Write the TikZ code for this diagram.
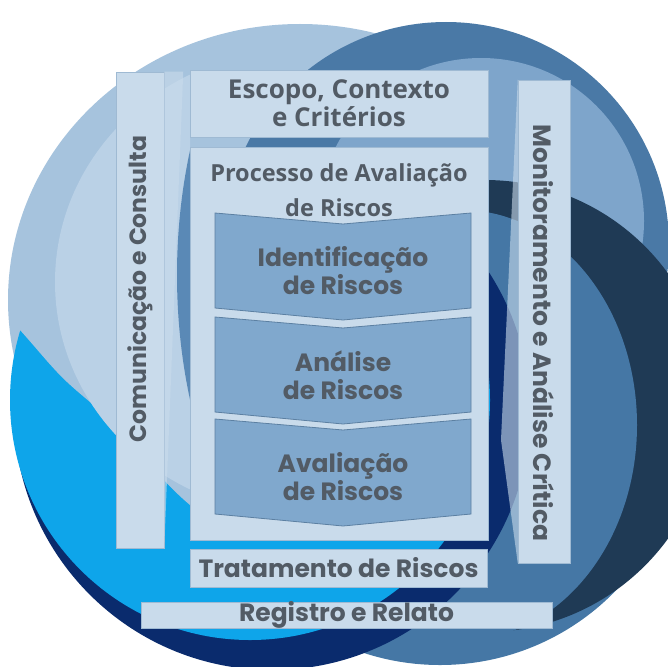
\documentclass[tikz,border=0pt]{standalone}
\definecolor{PaleBlue}{HTML}{A6C3DD}
\definecolor{PalerBlue}{HTML}{BAD1E6}
\definecolor{RingBlue}{HTML}{4A79A6}
\definecolor{RingLight}{HTML}{7EA5CB}
\definecolor{DeepSlate}{HTML}{1F3A55}
\definecolor{MidBlue}{HTML}{4577A5}
\definecolor{NavyBlue}{HTML}{0A2B6D}
\definecolor{SkyBlue}{HTML}{0EA5EA}
\definecolor{StripBlue}{HTML}{5A89B6}
\definecolor{PanelFill}{HTML}{C9DBEB}
\definecolor{PanelEdge}{HTML}{9FBAD3}
\definecolor{StepFill}{HTML}{80A8CD}
\definecolor{StepEdge}{HTML}{5C80A2}
\definecolor{InkGray}{HTML}{525B65}
\usepackage{fontspec}
\newfontfamily\popfont{Poppins}
\newfontfamily\opfont{Open Sans}
\usepackage{tikz}
\usetikzlibrary{positioning}

\tikzset{
	panel/.style={fill=PanelFill, draw=PanelEdge, line width=0.5pt, inner sep=0pt},
	boldtext/.style={font=\popfont\bfseries\fontsize{25}{28}\selectfont, text=InkGray, align=center},
	headtext/.style={font=\opfont\bfseries\fontsize{26}{28}\selectfont, text=InkGray, align=center},
	stepbox/.style={fill=StepFill, draw=StepEdge, line width=0.8pt}
}

\begin{document}
\begin{tikzpicture}[x=1pt,y=-1pt]
\useasboundingbox (0,0) rectangle (668,666);
% background circles
\begin{scope}
\clip (0,0) rectangle (668,666);
\fill[PaleBlue] (300,300) ellipse (292 and 276);
\fill[MidBlue] (440,420) circle (245);
\begin{scope}
\clip (190,0) rectangle (668,666);
\fill[RingBlue] (446,245) circle (223);
\fill[RingLight] (481,221) circle (163);
\end{scope}
\fill[DeepSlate] (485,406) circle (226);
\fill[MidBlue] (462,425) ellipse (175 and 215);
\fill[NavyBlue] (272,412) circle (258);
\fill[SkyBlue] (250,400) circle (240);
\fill[PaleBlue] (190,140) -- (100,180) -- (40,240) -- (22,290) -- (20,330)
	.. controls (38,350) and (52,368) .. (67,382)
	.. controls (82,396) and (98,408) .. (113,422)
	.. controls (135,445) and (160,480) .. (190,505) -- cycle;
\begin{scope}
\clip (0,0) rectangle (190,666);
\fill[PalerBlue] (300,282) ellipse (245 and 232);
\end{scope}
\begin{scope}
\clip (164,120) rectangle (190,545);
\fill[StripBlue] (440,275) ellipse (263 and 400);
\end{scope}
\end{scope}

% side bars
\node[panel, minimum width=48pt, minimum height=476pt] (commbar) at (140,310) {};
\fill[PanelFill, opacity=0.6] (commbar.north east) -- ++(19,0) -- (commbar.south east) -- cycle;
\node[boldtext, font=\popfont\bfseries\fontsize{23.5}{28}\selectfont, rotate=90] (commtext) at (140,289) {Comunicação e Consulta};
\node[panel, minimum width=52pt, minimum height=483pt] (monibar) at (544,321.5) {};
\coordinate (moniwedge) at (501,440);
\fill[PanelFill, opacity=0.6] (monibar.north west) -- (moniwedge) -- (monibar.south west) -- cycle;
\node[boldtext, rotate=-90] (monitext) at (544,333) {Monitoramento e Análise Crítica};

% central column
\node[panel, headtext, minimum width=298pt, minimum height=67pt] (escopo) at (339,103.5) {Escopo, Contexto\\e Critérios};
\node[panel, minimum width=298pt, minimum height=393pt] (processo) at (339,343.5) {};
\node[headtext, font=\opfont\bfseries\fontsize{23.5}{35}\selectfont] (processotext) at (339,190.5) {Processo de Avaliação\\de Riscos};
\foreach \ytop/\stepname/\first in {213/ident/Identificação, 317/analise/Análise, 419/avalia/Avaliação}{
	\draw[stepbox] (215,\ytop) -- (343,\ytop+11) -- (471,\ytop) -- (471,\ytop+95)
		-- (343,\ytop+107) -- (215,\ytop+95) -- cycle;
	\node[boldtext] (\stepname) at (343,\ytop+58) {\first\\de Riscos};
}
\node[panel, boldtext, minimum width=297pt, minimum height=38pt] (tratamento) at (338.5,568) {Tratamento de Riscos};
\node[panel, boldtext, text height=18pt, text depth=6pt, minimum width=411pt, minimum height=26pt] (registro) at (346.5,615) {Registro e Relato};
\end{tikzpicture}
\end{document}
